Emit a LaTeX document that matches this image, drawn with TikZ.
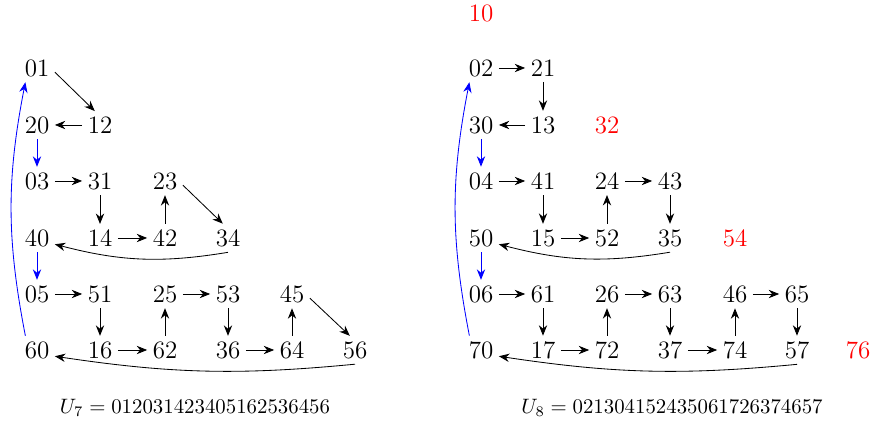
\documentclass[tikz,border=0pt]{standalone}
\usetikzlibrary{arrows.meta}
\begin{document}
\begin{tikzpicture}[x=0.48pt,y=0.48pt,
  v/.style={font=\large,inner sep=2.5pt},
  r/.style={font=\large,inner sep=2.5pt,text=red},
  e/.style={-{Stealth[length=5pt,width=4pt]},black},
  b/.style={-{Stealth[length=5pt,width=4pt]},blue},
  captext/.style={font=\normalsize}]
\useasboundingbox (0,0) rectangle (873,-421);
% left
\node[v] (L01) at (37,-68) {01};
\node[v] (L12) at (100,-125) {12};
\node[v] (L20) at (37,-125) {20};
\node[v] (L03) at (37,-181) {03};
\node[v] (L31) at (100,-181) {31};
\node[v] (L23) at (165,-181) {23};
\node[v] (L40) at (37,-238) {40};
\node[v] (L14) at (100,-238) {14};
\node[v] (L42) at (165,-238) {42};
\node[v] (L34) at (228,-238) {34};
\node[v] (L05) at (37,-294) {05};
\node[v] (L51) at (100,-294) {51};
\node[v] (L25) at (165,-294) {25};
\node[v] (L53) at (228,-294) {53};
\node[v] (L45) at (292,-294) {45};
\node[v] (L60) at (37,-350) {60};
\node[v] (L16) at (100,-350) {16};
\node[v] (L62) at (165,-350) {62};
\node[v] (L36) at (228,-350) {36};
\node[v] (L64) at (292,-350) {64};
\node[v] (L56) at (355,-350) {56};
\node[captext] (C7) at (195,-408) {$U_7 = 012031423405162536456$};
\draw[e] ([yshift=-2pt]L01.east) -- ([xshift=-2.5pt]L12.north);
\draw[e] (L12) -- (L20);
\draw[b] (L20) -- (L03);
\draw[e] (L03) -- (L31);
\draw[e] (L31) -- (L14);
\draw[e] (L14) -- (L42);
\draw[e] (L42) -- (L23);
\draw[e] ([yshift=-2pt]L23.east) -- ([xshift=-2.5pt]L34.north);
\draw[e] (L34.south) to[bend left=12] ([yshift=-3pt]L40.east);
\draw[b] (L40) -- (L05);
\draw[e] (L05) -- (L51);
\draw[e] (L51) -- (L16);
\draw[e] (L16) -- (L62);
\draw[e] (L62) -- (L25);
\draw[e] (L25) -- (L53);
\draw[e] (L53) -- (L36);
\draw[e] (L36) -- (L64);
\draw[e] (L64) -- (L45);
\draw[e] ([yshift=-2pt]L45.east) -- ([xshift=-2.5pt]L56.north);
\draw[e] (L56.south) to[bend left=7] ([yshift=-3pt]L60.east);
\draw[b] ([xshift=3pt]L60.north west) to[bend left=11] ([xshift=3pt]L01.south west);
% right
\node[r] (R10) at (481,-13) {10};
\node[v] (R02) at (481,-68) {02};
\node[v] (R21) at (543,-68) {21};
\node[v] (R30) at (481,-125) {30};
\node[v] (R13) at (543,-125) {13};
\node[r] (R32) at (607,-125) {32};
\node[v] (R04) at (481,-181) {04};
\node[v] (R41) at (543,-181) {41};
\node[v] (R24) at (607,-181) {24};
\node[v] (R43) at (670,-181) {43};
\node[v] (R50) at (481,-238) {50};
\node[v] (R15) at (543,-238) {15};
\node[v] (R52) at (607,-238) {52};
\node[v] (R35) at (670,-238) {35};
\node[r] (R54) at (735,-238) {54};
\node[v] (R06) at (481,-294) {06};
\node[v] (R61) at (543,-294) {61};
\node[v] (R26) at (607,-294) {26};
\node[v] (R63) at (670,-294) {63};
\node[v] (R46) at (735,-294) {46};
\node[v] (R65) at (797,-294) {65};
\node[v] (R70) at (481,-350) {70};
\node[v] (R17) at (543,-350) {17};
\node[v] (R72) at (607,-350) {72};
\node[v] (R37) at (670,-350) {37};
\node[v] (R74) at (735,-350) {74};
\node[v] (R57) at (797,-350) {57};
\node[r] (R76) at (858,-350) {76};
\node[captext] (C8) at (672,-408) {$U_8 = 021304152435061726374657$};
\draw[e] (R02) -- (R21);
\draw[e] (R21) -- (R13);
\draw[e] (R13) -- (R30);
\draw[b] (R30) -- (R04);
\draw[e] (R04) -- (R41);
\draw[e] (R41) -- (R15);
\draw[e] (R15) -- (R52);
\draw[e] (R52) -- (R24);
\draw[e] (R24) -- (R43);
\draw[e] (R43) -- (R35);
\draw[e] (R35.south) to[bend left=12] ([yshift=-3pt]R50.east);
\draw[b] (R50) -- (R06);
\draw[e] (R06) -- (R61);
\draw[e] (R61) -- (R17);
\draw[e] (R17) -- (R72);
\draw[e] (R72) -- (R26);
\draw[e] (R26) -- (R63);
\draw[e] (R63) -- (R37);
\draw[e] (R37) -- (R74);
\draw[e] (R74) -- (R46);
\draw[e] (R46) -- (R65);
\draw[e] (R65) -- (R57);
\draw[e] (R57.south) to[bend left=7] ([yshift=-3pt]R70.east);
\draw[b] ([xshift=3pt]R70.north west) to[bend left=11] ([xshift=3pt]R02.south west);
\end{tikzpicture}
\end{document}
